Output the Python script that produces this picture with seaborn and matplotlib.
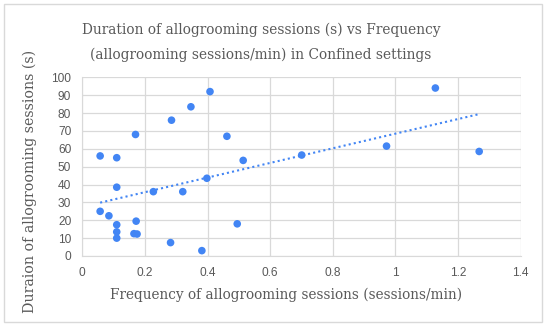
import pandas as pd
import numpy as np
import matplotlib.pyplot as plt
import seaborn as sns

# Frequency (sessions/min) and duration (s)
frequency = [0.057, 0.110, 0.110, 0.170, 0.057, 0.085, 0.110, 0.110, 0.110,
             0.172, 0.165, 0.175, 0.227, 0.285, 0.282, 0.347, 0.321, 0.382,
             0.398, 0.408, 0.462, 0.495, 0.514, 0.701, 0.972, 1.128, 1.268]
duration = [56, 55, 38.5, 68, 25, 22.5, 17.5, 13.5, 10,
            19.5, 12.5, 12.3, 36, 76, 7.5, 83.5, 36, 3,
            43.5, 92, 67, 18, 53.5, 56.5, 61.5, 94, 58.5]

x_ticks = [0, 0.2, 0.4, 0.6, 0.8, 1, 1.2, 1.4]
y_ticks = [0, 10, 20, 30, 40, 50, 60, 70, 80, 90, 100]

df = pd.DataFrame({'Frequency': frequency, 'Duration': duration})

sns.set_style('white')
blue = '#4285f4'
grey = '#595959'

fig = plt.figure(figsize=(5.5, 3.27), dpi=100)
ax = fig.add_axes([82.3 / 550, 1 - 256 / 327, (520.5 - 82.3) / 550, (256 - 77.3) / 327])

sns.scatterplot(data=df, x='Frequency', y='Duration', ax=ax, color=blue,
                s=30, edgecolor='none', zorder=3)
sns.regplot(data=df, x='Frequency', y='Duration', ax=ax, scatter=False, ci=None,
            color=blue, line_kws={'linestyle': (0, (1, 1.5)), 'linewidth': 1.5})

ax.set_xlim(0, 1.4)
ax.set_ylim(0, 100)
ax.set_xticks(x_ticks)
ax.set_xticklabels(['0', '0.2', '0.4', '0.6', '0.8', '1', '1.2', '1.4'])
ax.set_yticks(y_ticks)
ax.grid(True, color='#d9d9d9', linewidth=0.9)
ax.set_axisbelow(True)
for side in ['top', 'right']:
    ax.spines[side].set_visible(False)
for side in ['left', 'bottom']:
    ax.spines[side].set_color('#d9d9d9')
ax.tick_params(length=0, labelsize=8.6, colors=grey, pad=8)
for lbl in ax.get_xticklabels() + ax.get_yticklabels():
    lbl.set_family('Liberation Sans')
ax.set_xlabel('')
ax.set_ylabel('')

serif = 'DejaVu Serif'
fig.text(261 / 550, 1 - 42 / 327,
         'Duration of allogrooming sessions (s) vs Frequency\n(allogrooming sessions/min) in Confined settings',
         ha='center', va='center', fontsize=9.9, color=grey, family=serif, linespacing=1.95)
fig.text(286 / 550, 1 - 295 / 327, 'Frequency of allogrooming sessions (sessions/min)',
         ha='center', va='center', fontsize=9.85, color=grey, family=serif)
fig.text(30 / 550, 1 - 181 / 327, 'Duraion of allogrooming sessions (s)',
         ha='center', va='center', rotation=90, fontsize=10.2, color=grey, family=serif)

# outer chart frame
fig.patches.append(plt.Rectangle((4 / 550, 5 / 327), 538 / 550, 318 / 327, transform=fig.transFigure,
                                 fill=False, edgecolor='#d9d9d9', linewidth=1))

fig.savefig('out.png', dpi=100)
